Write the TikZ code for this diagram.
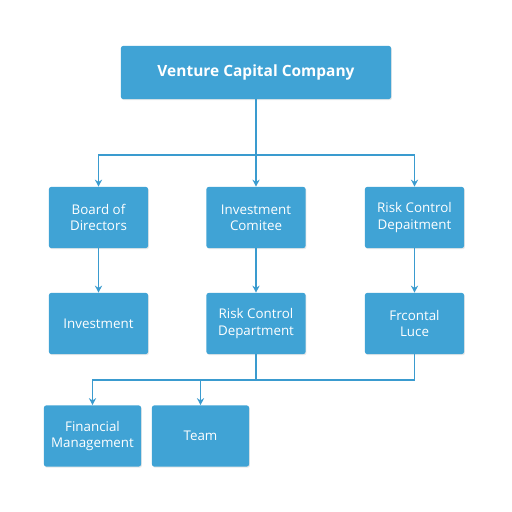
\documentclass[tikz,border=0pt]{standalone}
\usepackage{fontspec}
\setmainfont{Open Sans}
\usepackage{tikz}
\usetikzlibrary{arrows.meta,positioning,shadows}
\usepackage{xcolor}
\definecolor{boxblue}{HTML}{40A3D5}
\definecolor{lineblue}{HTML}{3A9BCF}

\begin{document}
\begin{tikzpicture}[
  x=0.025cm, y=-0.025cm,
  font=\fontsize{9.5}{11.5}\selectfont,
  unit/.style={fill=boxblue, text=white, rounded corners=1.5pt, align=center,
    minimum width=2.475cm, minimum height=1.525cm, inner sep=2pt,
    drop shadow={opacity=0.18, shadow xshift=0.6pt, shadow yshift=-0.8pt}},
  head/.style={unit, minimum width=6.75cm, minimum height=1.325cm,
    font=\fontsize{11}{13}\selectfont\bfseries},
  link/.style={draw=lineblue, line width=0.9pt},
  >={Stealth[length=5pt, width=5pt]}]
  \useasboundingbox (0,0) rectangle (512,512);
  \fill[white] (0,0) rectangle (512,512);
  % top
  \node[head] (vcc) at (256,72.5) {Venture Capital Company};
  % second row
  \node[unit] (board) at (98.5,217.5) {Board of\\Directors};
  \node[unit] (committee) at (256,217.5) {Investment\\Comitee};
  \node[unit] (risk) at (414.5,217.5) {Risk Control\\Depaitment};
  % third row
  \node[unit] (invest) at (98.5,323.5) {Investment};
  \node[unit] (riskdept) at (256,323.5) {Risk Control\\Department};
  \node[unit] (luce) at (414.5,323.5) {Frcontal\\Luce};
  % bottom row
  \node[unit, minimum width=2.425cm] (finance) at (92.5,436) {Financial\\Management};
  \node[unit, minimum width=2.425cm] (team) at (200.5,436) {Team};
  % buses
  \coordinate (topbus) at (256,155);
  \coordinate (lowbus) at (256,380);
  \draw[link] (vcc) -- (topbus);
  \draw[link, ->] (topbus) -| (board);
  \draw[link, ->] (topbus) -- (committee);
  \draw[link, ->] (topbus) -| (risk);
  \draw[link, ->] (board) -- (invest);
  \draw[link, ->] (committee) -- (riskdept);
  \draw[link, ->] (risk) -- (luce);
  \draw[link] (riskdept) -- (lowbus);
  \draw[link] (luce) |- (lowbus);
  \draw[link, ->] (lowbus) -| (finance);
  \draw[link, ->] (lowbus) -| (team);
\end{tikzpicture}
\end{document}
